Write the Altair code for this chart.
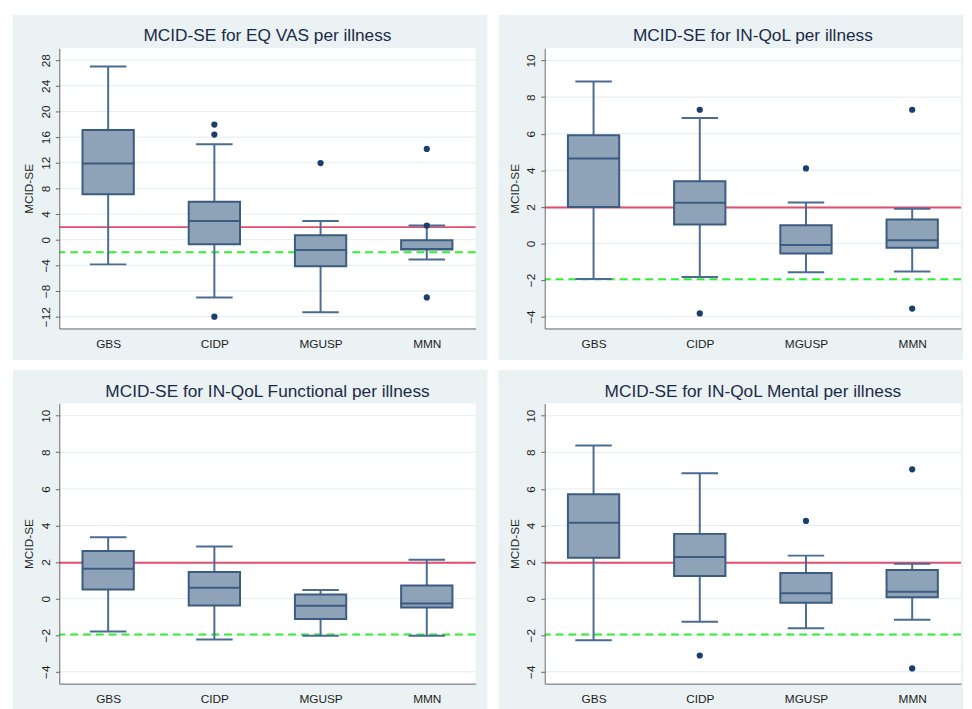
import altair as alt
import pandas as pd

categories = ["GBS", "CIDP", "MGUSP", "MMN"]

# Panel 1: EQ VAS
eq_lower = [-3.85, -9.0, -11.3, -3.1]
eq_q1 = [7.1, -0.7, -4.15, -1.55]
eq_median = [11.9, 2.9, -1.6, -1.45]
eq_q3 = [17.1, 5.9, 0.7, -0.1]
eq_upper = [27.0, 14.9, 2.9, 2.2]
eq_out_cat = ["CIDP", "CIDP", "CIDP", "MGUSP", "MMN", "MMN", "MMN"]
eq_out_val = [17.95, 16.4, -12.0, 11.95, 14.15, 2.2, -9.0]
eq_ticks = [-12, -8, -4, 0, 4, 8, 12, 16, 20, 24, 28]
eq_domain = [-13.85, 29.85]

# Panel 2: IN-QoL
iq_lower = [-1.95, -1.83, -1.58, -1.54]
iq_q1 = [1.99, 1.04, -0.55, -0.23]
iq_median = [4.64, 2.22, -0.09, 0.18]
iq_q3 = [5.91, 3.4, 1.0, 1.31]
iq_upper = [8.85, 6.86, 2.24, 1.9]
iq_out_cat = ["CIDP", "CIDP", "MGUSP", "MMN", "MMN"]
iq_out_val = [7.31, -3.83, 4.1, 7.31, -3.56]

# Panel 3: IN-QoL Functional
fn_lower = [-1.80, -2.23, -2.03, -2.03]
fn_q1 = [0.50, -0.38, -1.11, -0.48]
fn_median = [1.63, 0.59, -0.39, -0.27]
fn_q3 = [2.60, 1.45, 0.23, 0.72]
fn_upper = [3.36, 2.85, 0.47, 2.12]
fn_out_cat = []
fn_out_val = []

# Panel 4: IN-QoL Mental
mn_lower = [-2.28, -1.26, -1.62, -1.15]
mn_q1 = [2.24, 1.24, -0.22, 0.07]
mn_median = [4.15, 2.28, 0.29, 0.38]
mn_q3 = [5.71, 3.54, 1.40, 1.56]
mn_upper = [8.37, 6.86, 2.35, 1.90]
mn_out_cat = ["CIDP", "MGUSP", "MMN", "MMN"]
mn_out_val = [-3.11, 4.25, 7.07, -3.82]

qol_ticks = [-4, -2, 0, 2, 4, 6, 8, 10]
qol_domain = [-4.65, 10.67]

mcid_upper = [1.96]
mcid_lower = [-1.96]

BG = "#EAF2F3"
GRID = "#E4EDF0"
BOX_FILL = "#8FA3B8"
BOX_STROKE = "#3B5B80"
WHISK = "#4A6C92"
DOT = "#1A3F6E"
RED = "#DF4F6E"
GREEN = "#33EE33"
TEXT = "#1E1E1E"
FONT = "Liberation Sans"

W, H = 422, 284


def panel(title, lower, q1, med, q3, upper, out_cat, out_val, ticks, dom, right=False):
    box = pd.DataFrame({"cat": categories, "lower": lower, "q1": q1,
                        "median": med, "q3": q3, "upper": upper})
    outl = pd.DataFrame({"cat": out_cat, "value": out_val})
    grid = pd.DataFrame({"t": ticks})
    up = pd.DataFrame({"v": mcid_upper})
    lo = pd.DataFrame({"v": mcid_lower})
    one = pd.DataFrame({"k": [0]})

    yscale = alt.Scale(domain=dom, nice=False, zero=False)
    yaxis = alt.Axis(title="MCID-SE", values=ticks, labelAngle=270, labelAlign="center",
                     labelBaseline="bottom", labelPadding=3, labelFontSize=12, labelColor=TEXT,
                     tickSize=4, tickColor="#666666", domainColor="#666666", grid=False,
                     titleFontSize=12, titleFontWeight="normal", titleColor=TEXT, titlePadding=4,
                     labelFont=FONT, titleFont=FONT, zindex=1)
    xaxis = alt.Axis(title=None, labelAngle=0, ticks=False, labelPadding=10, labelFontSize=12,
                     labelColor=TEXT, domainColor="#666666", grid=False, labelFont=FONT, zindex=1)
    xscale = alt.Scale(type="point", padding=0.46)

    def X():
        return alt.X("cat:N", sort=categories, scale=xscale, axis=xaxis)

    def Y(f):
        return alt.Y(f"{f}:Q", scale=yscale, axis=yaxis)

    bg = alt.Chart(one).mark_rect(color=BG).encode(
        x=alt.value(-47), x2=alt.value(W + (2 if right else 12)),
        y=alt.value(-34), y2=alt.value(H + 32))
    white = alt.Chart(one).mark_rect(color="white").encode(
        x=alt.value(0), x2=alt.value(W), y=alt.value(0), y2=alt.value(H))
    gridl = alt.Chart(grid).mark_rule(color=GRID, strokeWidth=1).encode(y=Y("t"))
    red = alt.Chart(up).mark_rule(color=RED, strokeWidth=2).encode(y=Y("v"))
    green = alt.Chart(lo).mark_rule(color=GREEN, strokeWidth=2, strokeDash=[8, 5]).encode(y=Y("v"))
    whisk = alt.Chart(box).mark_rule(color=WHISK, strokeWidth=2).encode(x=X(), y=Y("lower"), y2="upper:Q")
    boxes = alt.Chart(box).mark_bar(size=52, fill=BOX_FILL, stroke=BOX_STROKE, strokeWidth=2).encode(
        x=X(), y=Y("q1"), y2="q3:Q")
    medl = alt.Chart(box).mark_tick(size=53, thickness=2, color=BOX_STROKE, opacity=1).encode(x=X(), y=Y("median"))
    cap_lo = alt.Chart(box).mark_tick(size=37, thickness=2, color=WHISK, opacity=1).encode(x=X(), y=Y("lower"))
    cap_hi = alt.Chart(box).mark_tick(size=37, thickness=2, color=WHISK, opacity=1).encode(x=X(), y=Y("upper"))
    layers = [bg, white, gridl, red, green, whisk, boxes, medl, cap_lo, cap_hi]
    if len(out_val) > 0:
        outs = alt.Chart(outl).mark_circle(size=40, color=DOT, opacity=1).encode(x=X(), y=Y("value"))
        layers.append(outs)
    ttl = alt.Chart(one).mark_text(text=title, fontSize=17.5, color="#1B2A48", font=FONT,
                                   align="center", baseline="alphabetic").encode(
        x=alt.value(W / 2), y=alt.value(-7))
    layers.append(ttl)
    return alt.layer(*layers).properties(width=W, height=H)


p1 = panel("MCID-SE for EQ VAS per illness", eq_lower, eq_q1, eq_median, eq_q3, eq_upper,
           eq_out_cat, eq_out_val, eq_ticks, eq_domain)
p2 = panel("MCID-SE for IN-QoL per illness", iq_lower, iq_q1, iq_median, iq_q3, iq_upper,
           iq_out_cat, iq_out_val, qol_ticks, qol_domain, right=True)
p3 = panel("MCID-SE for IN-QoL Functional per illness", fn_lower, fn_q1, fn_median, fn_q3, fn_upper,
           fn_out_cat, fn_out_val, qol_ticks, qol_domain)
p4 = panel("MCID-SE for IN-QoL Mental per illness", mn_lower, mn_q1, mn_median, mn_q3, mn_upper,
           mn_out_cat, mn_out_val, qol_ticks, qol_domain, right=True)

chart = alt.vconcat(
    alt.hconcat(p1, p2, spacing=9),
    alt.hconcat(p3, p4, spacing=9),
    spacing=8,
).properties(
    padding={"left": 4, "top": 1, "right": 0, "bottom": 0},
    background="white",
).configure_view(stroke=None).configure(font=FONT)

chart.save("out.html", embed_options={"renderer": "svg", "actions": False})
